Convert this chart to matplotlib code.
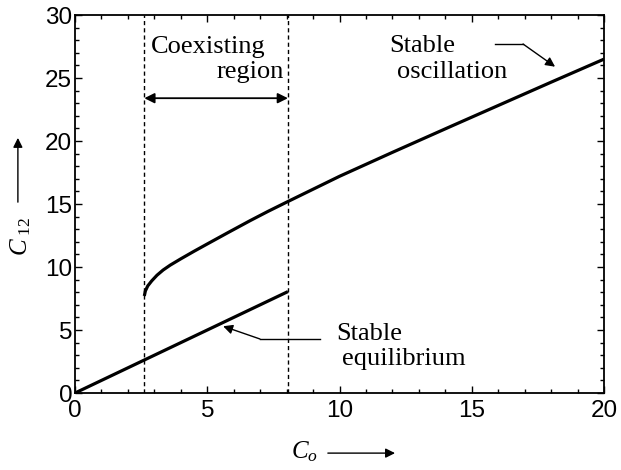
import matplotlib
matplotlib.use("Agg")
import matplotlib.pyplot as plt

# ---- data ----
co_eq = [0.0, 8.05]
c12_eq = [0.0, 8.05]

co_osc = [2.62, 2.66, 2.75, 2.9, 3.1, 3.33, 3.6, 4.0, 4.5, 5.0, 5.8, 6.62, 7.3, 8.05,
          10.0, 12.0, 14.25, 16.0, 18.0, 20.0]
c12_osc = [7.7, 8.1, 8.5, 8.9, 9.35, 9.76, 10.15, 10.65, 11.25, 11.83, 12.75, 13.68, 14.42, 15.2,
           17.2, 19.1, 21.2, 22.82, 24.67, 26.5]

region_bounds = [2.62, 8.05]
x_ticks = [0, 5, 10, 15, 20]
y_ticks = [0, 5, 10, 15, 20, 25, 30]

plt.rcParams['mathtext.fontset'] = 'custom'
plt.rcParams['mathtext.it'] = 'Liberation Serif:italic'
plt.rcParams['mathtext.rm'] = 'Liberation Serif'

SERIF = 'Liberation Serif'
SANS = 'Liberation Sans'

fig = plt.figure(figsize=(6.21, 4.70), dpi=100)
ax = fig.add_axes([0.1208, 0.1638, 0.8518, 0.8042])

ax.plot(co_eq, c12_eq, color='black', lw=2.3, solid_capstyle='butt')
ax.plot(co_osc, c12_osc, color='black', lw=2.3, solid_capstyle='butt',
        solid_joinstyle='round')

for xb in region_bounds:
    ax.axvline(xb, color='black', lw=1.0, linestyle=(0, (3, 2.2)))

ax.set_xlim(0, 20)
ax.set_ylim(0, 30)
ax.set_xticks(x_ticks)
ax.set_yticks(y_ticks)
ax.set_xticks(range(0, 21), minor=True)
ax.set_yticks(range(0, 31), minor=True)
ax.tick_params(which='both', direction='in', top=True, right=True, width=1.0)
ax.tick_params(which='major', length=5)
ax.tick_params(which='minor', length=3)
ax.tick_params(axis='x', pad=5)
ax.tick_params(axis='y', pad=2)
for lab in ax.get_xticklabels() + ax.get_yticklabels():
    lab.set_fontfamily(SANS)
    lab.set_fontsize(17.5)
for sp in ax.spines.values():
    sp.set_linewidth(1.3)

FS = 19
# Coexisting region annotation
ax.text(2.87, 26.96, 'Coexisting', family=SERIF, fontsize=FS, ha='left', va='baseline')
ax.text(5.36, 24.97, 'region', family=SERIF, fontsize=FS, ha='left', va='baseline')
ax.annotate('', xy=(region_bounds[0], 23.4), xytext=(region_bounds[1], 23.4),
            arrowprops=dict(arrowstyle='<|-|>', color='black', lw=1.3,
                            mutation_scale=15, shrinkA=0, shrinkB=0))

# Stable oscillation
ax.text(11.87, 27.09, 'Stable', family=SERIF, fontsize=FS, ha='left', va='baseline')
ax.text(12.17, 24.97, 'oscillation', family=SERIF, fontsize=FS, ha='left', va='baseline')
ax.plot([15.88, 16.94], [27.7, 27.7], color='black', lw=1.0)
ax.annotate('', xy=(18.15, 25.9), xytext=(16.94, 27.7),
            arrowprops=dict(arrowstyle='-|>', color='black', lw=1.0,
                            mutation_scale=14, shrinkA=0, shrinkB=0))

# Stable equilibrium
ax.text(9.87, 4.21, 'Stable', family=SERIF, fontsize=FS, ha='left', va='baseline')
ax.text(10.09, 2.22, 'equilibrium', family=SERIF, fontsize=FS, ha='left', va='baseline')
ax.plot([9.26, 6.99], [4.29, 4.29], color='black', lw=1.0)
ax.annotate('', xy=(5.6, 5.3), xytext=(6.99, 4.29),
            arrowprops=dict(arrowstyle='-|>', color='black', lw=1.0,
                            mutation_scale=14, shrinkA=0, shrinkB=0))

# Axis labels with arrows
ax.text(0.433, -0.155, r'$C_o$', transform=ax.transAxes, fontsize=18,
        ha='center', va='center')
ax.annotate('', xy=(0.605, -0.159), xytext=(0.478, -0.159), xycoords='axes fraction',
            textcoords='axes fraction', annotation_clip=False,
            arrowprops=dict(arrowstyle='-|>', color='black', lw=1.0,
                            mutation_scale=14, shrinkA=0, shrinkB=0))

ax.text(-0.102, 0.415, r'$C_{\ \mathrm{12}}$', transform=ax.transAxes, fontsize=18,
        ha='center', va='center', rotation=90)
ax.annotate('', xy=(-0.108, 0.675), xytext=(-0.108, 0.505), xycoords='axes fraction',
            textcoords='axes fraction', annotation_clip=False,
            arrowprops=dict(arrowstyle='-|>', color='black', lw=1.0,
                            mutation_scale=14, shrinkA=0, shrinkB=0))

fig.savefig('out.png', dpi=100)
